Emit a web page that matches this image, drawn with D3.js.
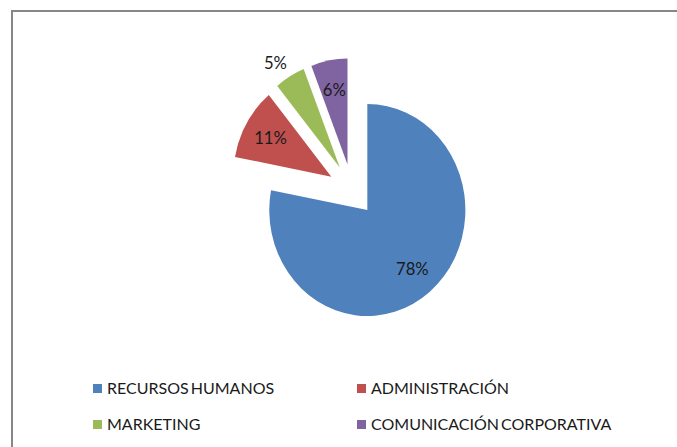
<!DOCTYPE html>
<html>
<head>
<meta charset="utf-8">
<script src="https://cdn.jsdelivr.net/npm/d3@7"></script>
<style>
  body { margin: 0; background: #fff; }
  text { font-family: Lato, "Open Sans", sans-serif; fill: #1a1a1a; }
</style>
</head>
<body>
<div id="chart"></div>
<script>
// data
let categories = ["RECURSOS HUMANOS", "ADMINISTRACIÓN", "MARKETING", "COMUNICACIÓN CORPORATIVA"];
let values = [78, 11, 5, 6];
let colors = ["#4F81BD", "#C0504D", "#9BBB59", "#8064A2"];

let svgWidth = 677;
let svgHeight = 447;

let svg = d3.select("#chart")
    .append("svg")
    .attr("width", svgWidth)
    .attr("height", svgHeight);

// chart area border (right and bottom edges fall outside the picture)
svg.append("rect")
    .attr("x", 12)
    .attr("y", 11)
    .attr("width", 720)
    .attr("height", 500)
    .attr("fill", "none")
    .attr("stroke", "#878787")
    .attr("stroke-width", 2);

let radius = 106;
let explode = 26;
let squeeze = 0.925;

let data = categories.map((c, i) => ({ name: c, value: values[i], color: colors[i] }));

let pie = d3.pie().sort(null).value(d => d.value);
let arc = d3.arc().innerRadius(0).outerRadius(radius);

let pieGroup = svg.append("g")
    .attr("transform", `translate(352, 190) scale(${squeeze}, 1)`);

let slices = pieGroup.selectAll("g.slice")
    .data(pie(data))
    .enter()
    .append("g")
    .attr("class", "slice")
    .attr("transform", function (d) {
        let mid = (d.startAngle + d.endAngle) / 2;
        return `translate(${Math.sin(mid) * explode}, ${-Math.cos(mid) * explode})`;
    });

slices.append("path")
    .attr("d", arc)
    .attr("fill", d => d.data.color);

// small slices get their label outside, like excel's best fit
slices.append("text")
    .attr("transform", function (d) {
        let mid = (d.startAngle + d.endAngle) / 2;
        if (d.data.value < 6) mid -= 0.05;
        let r = d.data.value < 6 ? radius * 1.19 : radius * 0.72;
        return `translate(${Math.sin(mid) * r}, ${-Math.cos(mid) * r})`;
    })
    .attr("text-anchor", "middle")
    .attr("dy", "0.36em")
    .attr("font-size", "18px")
    .text(d => d.data.value + "%");

// legend, two columns
let legendX = d3.scalePoint().domain([0, 1]).range([93, 357]);
let legendY = d3.scalePoint().domain([0, 1]).range([384, 420]);

let legend = svg.selectAll("g.legend")
    .data(data)
    .enter()
    .append("g")
    .attr("class", "legend")
    .attr("transform", (d, i) => `translate(${legendX(i % 2)}, ${legendY(Math.floor(i / 2))})`);

legend.append("rect")
    .attr("width", 9)
    .attr("height", 9)
    .attr("fill", d => d.color);

legend.append("text")
    .attr("x", 14)
    .attr("y", 10)
    .attr("font-size", "16px")
    .attr("word-spacing", "-2px")
    .text(d => d.name);
</script>
</body>
</html>
